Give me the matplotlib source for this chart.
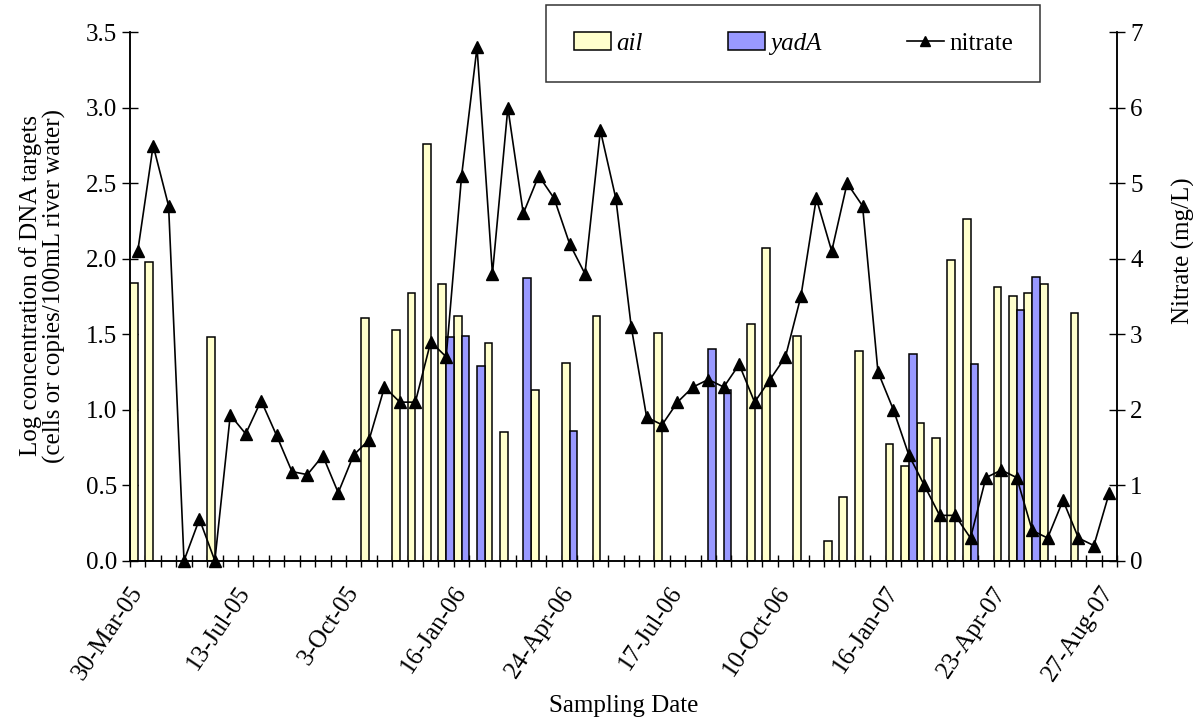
import numpy as np
import matplotlib.pyplot as plt
from matplotlib.lines import Line2D
from matplotlib.patches import Patch

plt.rcParams['font.family'] = ['Liberation Serif', 'DejaVu Serif']

# sampling rounds (categorical axis), labelled every 7th sample
n_samples = 64
label_pos = [0, 7, 14, 21, 28, 35, 42, 49, 56, 63]
label_text = ['30-Mar-05', '13-Jul-05', '3-Oct-05', '16-Jan-06', '24-Apr-06',
              '17-Jul-06', '10-Oct-06', '16-Jan-07', '23-Apr-07', '27-Aug-07']

# log concentration of ail (sample index -> value)
ail = {0: 1.84, 1: 1.98, 5: 1.48, 15: 1.61, 17: 1.53, 18: 1.77, 19: 2.76,
       20: 1.83, 21: 1.62, 23: 1.44, 24: 0.85, 26: 1.13, 28: 1.31, 30: 1.62,
       34: 1.51, 40: 1.57, 41: 2.07, 43: 1.49, 45: 0.13, 46: 0.42, 47: 1.39,
       49: 0.77, 50: 0.63, 51: 0.91, 52: 0.81, 53: 1.99, 54: 2.26, 56: 1.81,
       57: 1.75, 58: 1.77, 59: 1.83, 61: 1.64}

# log concentration of yadA
yada = {20: 1.48, 21: 1.49, 22: 1.29, 25: 1.87, 28: 0.86, 37: 1.40, 38: 1.13,
        50: 1.37, 54: 1.30, 57: 1.66, 58: 1.88}

# nitrate (mg/L), one value per sample
nitrate = [4.1, 5.5, 4.7, 0.0, 0.55, 0.0, 1.93, 1.68, 2.12, 1.66,
           1.18, 1.14, 1.39, 0.9, 1.4, 1.6, 2.3, 2.1, 2.1, 2.9,
           2.7, 5.1, 6.8, 3.8, 6.0, 4.6, 5.1, 4.8, 4.2, 3.8,
           5.7, 4.8, 3.1, 1.9, 1.8, 2.1, 2.3, 2.4, 2.3, 2.6,
           2.1, 2.4, 2.7, 3.5, 4.8, 4.1, 5.0, 4.7, 2.5, 2.0,
           1.4, 1.0, 0.6, 0.6, 0.3, 1.1, 1.2, 1.1, 0.4, 0.3,
           0.8, 0.3, 0.2, 0.9]

fs = 18
fig = plt.figure(figsize=(11.93, 7.24), dpi=100)
ax = fig.add_axes([0.109, 0.2256, 0.8273, 0.7298])
ax2 = ax.twinx()

w = 0.5
ax.bar(np.array(list(ail.keys())) - w / 2, list(ail.values()), width=w,
       color='#FFFFCC', edgecolor='black', linewidth=1.1, zorder=2)
ax.bar(np.array(list(yada.keys())) + w / 2, list(yada.values()), width=w,
       color='#9999FF', edgecolor='black', linewidth=1.1, zorder=2)
ax2.plot(range(n_samples), nitrate, color='black', linewidth=1.2,
         marker='^', markersize=9, clip_on=False)

ax.set_xlim(-0.5, n_samples - 0.5)
ax.set_ylim(0, 3.5)
ax2.set_ylim(0, 7)

ax.set_yticks(np.arange(0, 3.51, 0.5))
ax.set_yticklabels([f'{v:.1f}' for v in np.arange(0, 3.51, 0.5)])
ax2.set_yticks(range(8))

# boundary ticks between samples, date labels on sample centres
ax.set_xticks(np.arange(-0.5, n_samples, 1.0))
ax.set_xticklabels([])
ax.set_xticks(label_pos, minor=True)
ax.set_xticklabels(label_text, minor=True, rotation=56, ha='right',
                   va='center', rotation_mode='anchor')
ax.tick_params(axis='x', which='major', direction='inout', length=9, width=1)
ax.tick_params(axis='x', which='minor', length=0, pad=20, labelsize=fs)
ax.tick_params(axis='y', direction='inout', length=11, width=1, labelsize=fs, pad=4)
ax2.tick_params(axis='y', direction='inout', length=11, width=1, labelsize=fs, pad=4)

for a in (ax, ax2):
    a.spines['top'].set_visible(False)
    for s in ('left', 'right', 'bottom'):
        a.spines[s].set_linewidth(1.1)

ax.set_xlabel('Sampling Date', fontsize=fs)
ax.xaxis.set_label_coords(0.5, -0.254)
ax.set_ylabel('Log concentration of DNA targets\n(cells or copies/100mL river water)',
              fontsize=fs, linespacing=1.05)
ax.yaxis.set_label_coords(-0.065, 0.52)
ax2.set_ylabel('Nitrate (mg/L)', fontsize=fs)
ax2.yaxis.set_label_coords(1.0557, 0.586)

handles = [Patch(facecolor='#FFFFCC', edgecolor='black', linewidth=1.1),
           Patch(facecolor='#9999FF', edgecolor='black', linewidth=1.1),
           Line2D([], [], color='black', linewidth=1.2, marker='^', markersize=7)]
labels = ['ail', 'yadA', 'nitrate']
leg = fig.legend(handles, labels, ncol=3, loc='center',
                 bbox_to_anchor=(0.665, 0.94), fontsize=18, frameon=True,
                 fancybox=False, edgecolor='black', borderpad=1.1,
                 columnspacing=3.4, handlelength=1.5, handletextpad=0.2)
leg.get_frame().set_linewidth(1.1)
for t in leg.get_texts()[:2]:
    t.set_fontstyle('italic')

fig.savefig('out.png', dpi=100)
